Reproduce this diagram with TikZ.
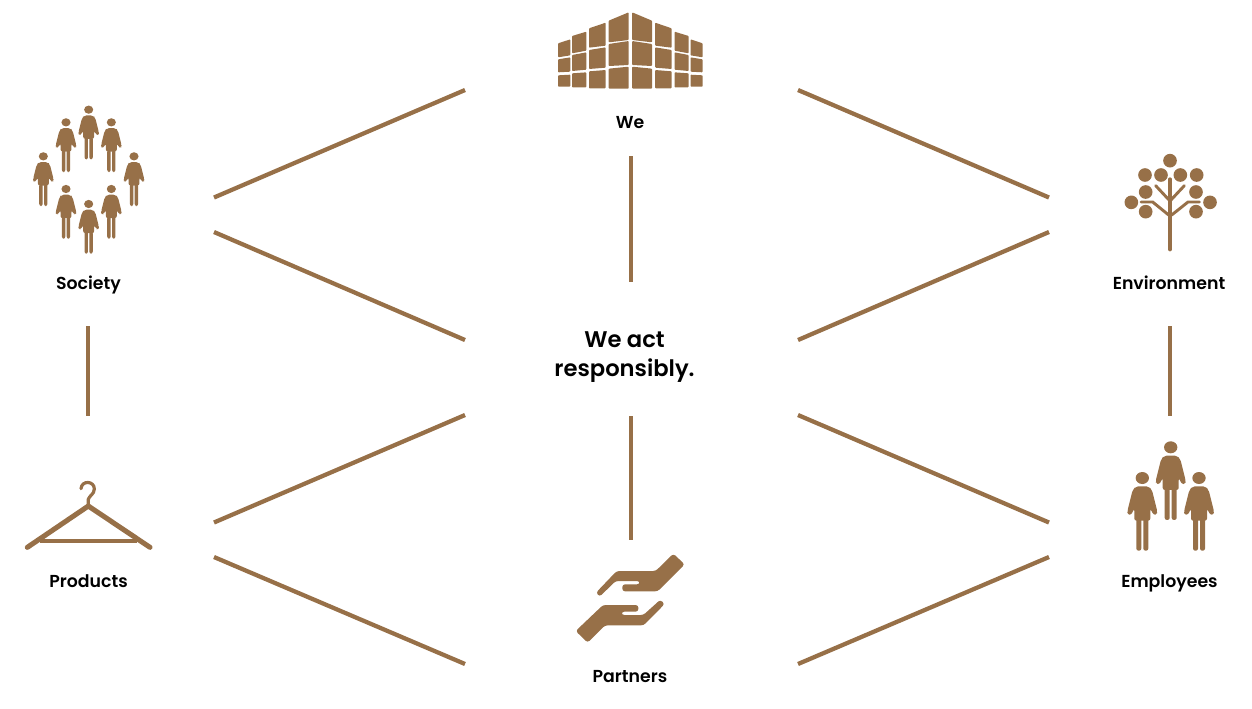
\documentclass[tikz,border=0pt]{standalone}
\usepackage{fontspec}
\setmainfont{Poppins}[BoldFont={Poppins SemiBold}]
\definecolor{brn}{HTML}{977048}
\tikzset{
  link/.style={draw=brn,line width=3.2pt},
  lab/.style={font=\fontsize{13pt}{15pt}\selectfont\bfseries,text=black,inner sep=0pt,anchor=base},
  mainlab/.style={font=\fontsize{17pt}{21.8pt}\selectfont\bfseries,text=black,inner sep=0pt,align=center},
  zoomed/.style={fill=brn,draw=none,rounded corners=2pt},
  person/.pic={
    \begin{scope}[x=.25pt,y=-.25pt]
      \fill[brn] (0,0) ellipse (20 and 18);
      \fill[brn,rounded corners=1.6pt] (-19,25) -- (19,25) -- (29,36) -- (45,100) -- (44,109) -- (34,111) -- (24,92) -- (24,128) -- (-24,128) -- (-24,92) -- (-34,111) -- (-44,109) -- (-45,100) -- (-29,36) -- cycle;
      \fill[brn,rounded corners=1.6pt] (-18,120) rectangle (-3,218);
      \fill[brn,rounded corners=1.6pt] (3,120) rectangle (18,218);
    \end{scope}
  }
}
\begin{document}
\begin{tikzpicture}[x=.75pt,y=-.75pt]
\useasboundingbox (0,0) rectangle (1252,708);
% connectors
\foreach \n/\ax/\ay/\bx/\by in {a/214/197.5/465/90,b/214/232/465/340,c/214/522.5/465/415,d/214/557/465/664,
  e/798/90/1049/197.5,f/798/340/1049/232,g/798/415/1049/522.5,h/798/664/1049/557,
  i/630.7/156/630.7/281.5,j/630.7/416/630.7/539.5,k/88/326/88/415.5,l/1169.7/326/1169.7/415.5}{
  \coordinate (\n1) at (\ax,\ay);
  \coordinate (\n2) at (\bx,\by);
  \draw[link] (\n1) -- (\n2);
}
% labels
\node[lab] (we) at (630,128.5) {We};
\node[lab] (society) at (88.5,289.5) {Society};
\node[lab] (environment) at (1169,289.5) {Environment};
\node[lab] (products) at (88.5,587.5) {Products};
\node[lab] (employees) at (1169.5,587.5) {Employees};
\node[lab] (partners) at (630,682.5) {Partners};
\node[mainlab] (main) at (624.5,357) {We act\\responsibly.};
% building
\begin{scope}[shift={(540,0)},x=.25pt,y=-.25pt]
\foreach \l/\r/\tl/\tr/\bl/\br in {
 54/91/130/118/172/166, 96/139/108/95/160/152, 147/197/85/68/143/137, 206/266/62/37/127/120,
 54/91/178/172/217/215, 96/139/165/157/213/209, 147/197/150/142/207/203, 206/266/132/123/198/195,
 54/91/226/224/260/260, 96/139/220/217/262/262, 147/197/214/210/265/265, 206/266/206/200/266/266}{
  \fill[zoomed,rounded corners=.6pt] (\l,\tl) -- (\r,\tr) -- (\r,\br) -- (\l,\bl) -- cycle;
  \pgfmathsetmacro{\ml}{542-\l}\pgfmathsetmacro{\mr}{542.5-\r}
  \fill[zoomed,rounded corners=.6pt] (\ml,\tl) -- (\mr,\tr) -- (\mr,\br) -- (\ml,\bl) -- cycle;
}
\end{scope}
% society
\foreach \X/\Y in {206/44,138/82,274/82,70/184,342/184,138/282,274/282,206/327}{
  \pic[scale=.684] at ({20+\X/3},{95+\Y/3}) {person};
}
% employees
\pic at (1170.7,447.3) {person};
\pic at (1142.3,478) {person};
\pic at (1199,478) {person};
% tree
\begin{scope}[shift={(1110,145)},x=.25pt,y=-.25pt]
\foreach \X/\Y in {180/47,105/90,153/90,211/90,260/90,107/141,258/141,64/172,300/172,107/200,258/200}{
  \fill[brn] (\X,\Y) circle (20.5);
}
\draw[brn,line width=3.6pt,line cap=round] (180,200) -- (180,312);
\draw[brn,line width=2.4pt,line cap=round] (180,102) -- (180,205);
\draw[brn,line width=2.2pt,line cap=round] (137,122) -- (180,168) -- (223,122);
\draw[brn,line width=2.2pt,line cap=round,line join=round] (93,171) -- (128,171) -- (176,210);
\draw[brn,line width=2.2pt,line cap=round,line join=round] (268,171) -- (234,171) -- (185,210);
\end{scope}
% hanger
\begin{scope}[shift={(15,470)},x=.25pt,y=-.25pt]
\draw[brn,line width=3.8pt,line cap=round,line join=round] (37,232) -- (220,108) -- (405,232);
\draw[brn,line width=2.6pt] (75,213) -- (365,213);
\draw[brn,line width=2.4pt,line cap=round] (220,105) -- (220,88) .. controls (222,78) and (238,72) .. (238,57) .. controls (238,32) and (200,30) .. (198,56);
\end{scope}
% hands
\begin{scope}[shift={(565,545)},x=.25pt,y=-.25pt]
\fill[zoomed] (325,26) -- (359,58) -- (278,139) -- (172,139) -- (172,118) -- (224,118) -- (224,108) -- (152,108) -- (104,155) -- (93,143) -- (155,78) -- (272,78) -- cycle;
\fill[zoomed] (32,258) -- (68,293) -- (120,241) -- (236,241) -- (299,177) -- (286,164) -- (235,210) -- (170,210) -- (170,200) -- (220,200) -- (220,180) -- (114,180) -- cycle;
\end{scope}
\end{tikzpicture}
\end{document}
